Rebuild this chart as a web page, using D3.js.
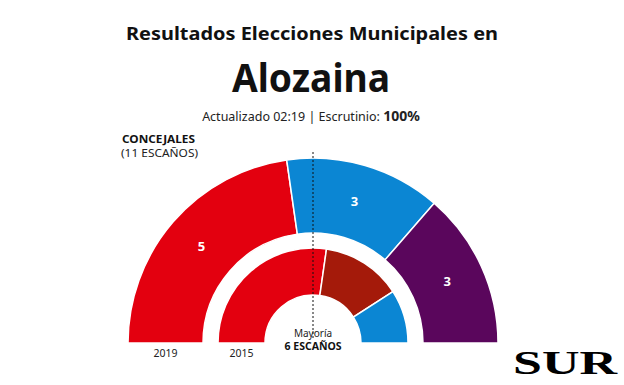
<!DOCTYPE html>
<html>
<head>
<meta charset="utf-8">
<script src="https://cdnjs.cloudflare.com/ajax/libs/d3/7.8.5/d3.min.js"></script>
<style>
  body { margin: 0; background: #fff; }
  svg { font-family: "Noto Sans", "Open Sans", sans-serif; }
</style>
</head>
<body>
<script>
// data
var years = ["2019", "2015"];
var parties2019 = ["PSOE", "PP", "Adelante"];
var seats2019 = [5, 3, 3];
var colors2019 = ["#e3000f", "#0b86d3", "#5a065c"];
var parties2015 = ["PSOE", "IU", "PP"];
var seats2015 = [6, 3, 2];
var colors2015 = ["#e3000f", "#a41a0a", "#0b86d3"];
var totalSeats = 11;
var majority = 6;

var width = 624, height = 385;
var cx = 313, cy = 343;

var svg = d3.select("body").append("svg")
    .attr("width", width)
    .attr("height", height);

// titles
svg.append("text")
    .attr("x", 312).attr("y", 40)
    .attr("text-anchor", "middle")
    .attr("font-size", 17).attr("font-weight", 700)
    .attr("textLength", 372).attr("lengthAdjust", "spacingAndGlyphs")
    .attr("fill", "#111")
    .text("Resultados Elecciones Municipales en");

svg.append("text")
    .attr("x", 311).attr("y", 92)
    .attr("text-anchor", "middle")
    .attr("font-size", 40).attr("font-weight", 700)
    .attr("textLength", 158).attr("lengthAdjust", "spacingAndGlyphs")
    .attr("fill", "#111")
    .text("Alozaina");

var sub = svg.append("text")
    .attr("x", 311).attr("y", 121)
    .attr("text-anchor", "middle")
    .attr("font-size", 12.5)
    .attr("fill", "#222");
sub.append("tspan").text("Actualizado 02:19 | Escrutinio: ");
sub.append("tspan").attr("font-weight", 700).attr("font-size", 14).text("100%");

svg.append("text")
    .attr("x", 122).attr("y", 143)
    .attr("font-size", 11).attr("font-weight", 700)
    .attr("textLength", 73).attr("lengthAdjust", "spacingAndGlyphs")
    .attr("fill", "#111")
    .text("CONCEJALES");
svg.append("text")
    .attr("x", 121).attr("y", 157)
    .attr("font-size", 11)
    .attr("textLength", 77).attr("lengthAdjust", "spacingAndGlyphs")
    .attr("fill", "#222")
    .text("(" + totalSeats + " ESCAÑOS)");

// half donut rings
var pie = d3.pie()
    .sort(null)
    .startAngle(-Math.PI / 2)
    .endAngle(Math.PI / 2);

var rings = [
  {year: years[0], seats: seats2019, colors: colors2019, parties: parties2019, r0: 110, r1: 185, labels: true},
  {year: years[1], seats: seats2015, colors: colors2015, parties: parties2015, r0: 48, r1: 95, labels: false}
];

var g = svg.append("g").attr("transform", "translate(" + cx + "," + cy + ")");

rings.forEach(function(ring) {
  var arc = d3.arc().innerRadius(ring.r0).outerRadius(ring.r1);
  var labelArc = d3.arc().innerRadius((ring.r0 + ring.r1) / 2).outerRadius((ring.r0 + ring.r1) / 2);
  var arcs = pie(ring.seats);

  g.selectAll(null)
    .data(arcs)
    .enter().append("path")
      .attr("d", arc)
      .attr("fill", function(d, i) { return ring.colors[i]; })
      .attr("stroke", "#fff")
      .attr("stroke-width", 1.5);

  if (ring.labels) {
    g.selectAll(null)
      .data(arcs)
      .enter().append("text")
        .attr("transform", function(d) { return "translate(" + labelArc.centroid(d) + ")"; })
        .attr("text-anchor", "middle")
        .attr("dy", "0.36em")
        .attr("font-size", 13).attr("font-weight", 700)
        .attr("fill", "#fff")
        .text(function(d) { return d.data; });
  }

  // year label under the ring's left end
  svg.append("text")
    .attr("x", cx - (ring.r0 + ring.r1) / 2)
    .attr("y", 357)
    .attr("text-anchor", "middle")
    .attr("font-size", 10.5)
    .attr("fill", "#222")
    .text(ring.year);
});

// majority line
g.append("line")
    .attr("x1", 0).attr("x2", 0)
    .attr("y1", -191).attr("y2", -3)
    .attr("stroke", "#111")
    .attr("stroke-width", 1)
    .attr("stroke-dasharray", "2,2");

svg.append("text")
    .attr("x", cx).attr("y", 337)
    .attr("text-anchor", "middle")
    .attr("font-size", 10)
    .attr("fill", "#222")
    .text("Mayoría");
svg.append("text")
    .attr("x", cx).attr("y", 350)
    .attr("text-anchor", "middle")
    .attr("font-size", 10).attr("font-weight", 700)
    .attr("textLength", 57).attr("lengthAdjust", "spacingAndGlyphs")
    .attr("fill", "#111")
    .text(majority + " ESCAÑOS");

// logo
svg.append("text")
    .attr("x", 513).attr("y", 374)
    .style("font-family", "'Liberation Serif', 'DejaVu Serif', serif")
    .attr("font-size", 34).attr("font-weight", 700)
    .attr("textLength", 104).attr("lengthAdjust", "spacingAndGlyphs")
    .attr("fill", "#000")
    .text("SUR");
</script>
</body>
</html>
